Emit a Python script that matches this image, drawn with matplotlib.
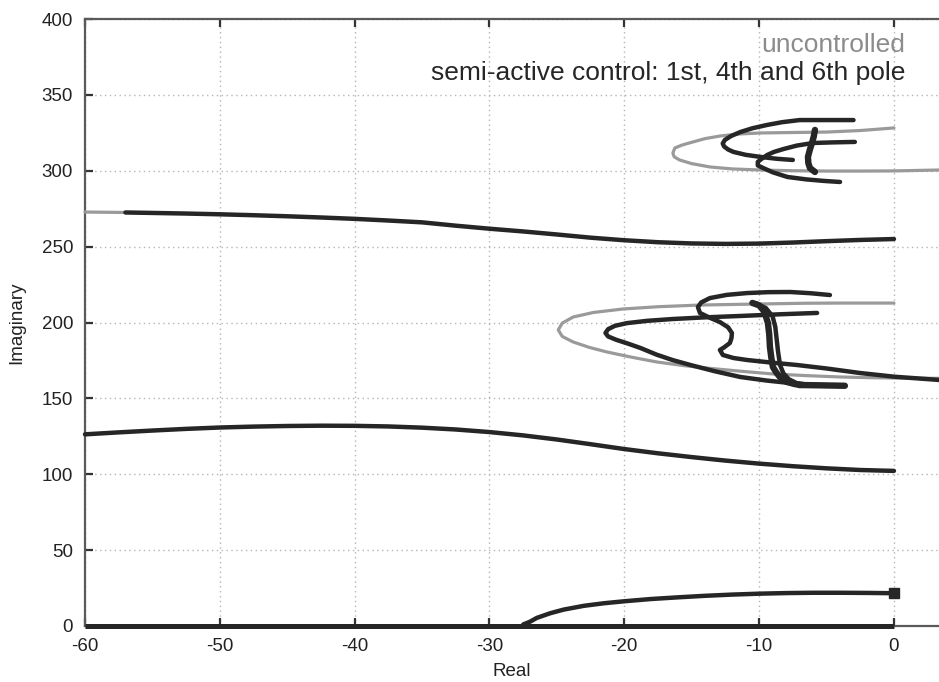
import matplotlib
matplotlib.use("Agg")
import matplotlib.pyplot as plt

plt.rcParams['font.family'] = ['Liberation Sans', 'DejaVu Sans']
plt.rcParams['axes.unicode_minus'] = False

DARK = "#262626"
GRAY = "#9a9a9a"

# ---- root-locus branches (real part, imaginary part) ----
# real-axis branch
axis_re = [-60, 0]
axis_im = [0, 0]

# first pole leaving the real axis
p1_re = [-27.5, -27.0, -26.5, -25.5, -24.5, -23.0, -21.5, -20.0, -18.0, -16.0,
         -14.0, -12.0, -10.0, -8.0, -6.0, -4.0, -2.0, 0.0]
p1_im = [1.0, 2.8, 5.3, 8.4, 10.8, 13.3, 15.0, 16.3, 17.8, 18.9,
         19.9, 20.7, 21.3, 21.7, 21.9, 21.9, 21.8, 21.6]

# second pole
p2_re = [-60, -57.5, -55, -52.5, -50, -47.5, -45, -42.5, -40, -37.5, -35, -32.5,
         -30, -27.5, -25, -22.5, -20, -17.5, -15, -12.5, -10, -7.5, -5, -2.5, 0]
p2_im = [126.3, 127.6, 128.8, 129.9, 130.8, 131.4, 131.8, 132.0, 131.9, 131.5,
         130.7, 129.5, 127.8, 125.6, 122.9, 119.8, 116.6, 113.8, 111.3, 109.0,
         107.0, 105.3, 103.9, 102.8, 102.2]

# third pole
p3u_re = [-60, -57]
p3u_im = [272.8, 272.5]
p3_re = [-57, -55, -52.5, -50, -47.5, -45, -42.5, -40, -37.5, -35, -32.5, -30,
         -27.5, -25, -22.5, -20, -17.5, -15, -12.5, -10, -7.5, -5, -2.5, 0]
p3_im = [272.5, 272.2, 271.8, 271.3, 270.7, 270.0, 269.2, 268.3, 267.2, 266.0,
         263.8, 261.8, 260.0, 258.0, 255.9, 254.2, 252.9, 252.1, 251.8, 252.0,
         252.7, 253.6, 254.4, 255.0]

# fourth pole: uncontrolled
p4u_re = [0.0, -4.0, -6.5, -10.0, -14.4, -17.5, -20.1, -22.3, -23.8, -24.6, -24.9,
          -24.6, -23.8, -22.6, -21.3, -19.5, -17.6, -15.6, -13.9, -11.5, -9.0,
          -6.5, -4.0, -1.5, 0.0, 3.4]
p4u_im = [212.8, 212.8, 212.7, 212.2, 211.5, 210.4, 208.9, 206.6, 203.6, 199.6, 195.1,
          190.8, 187.2, 183.6, 180.6, 177.2, 174.0, 171.6, 170.0, 168.0, 166.1,
          165.0, 164.1, 163.6, 163.4, 163.2]

# fourth pole: semi-active (outer loop)
p4a_re = [-5.7, -8.5, -11.4, -14.0, -16.4, -18.3, -19.8, -20.7, -21.2, -21.4,
          -21.2, -20.6, -19.7, -18.8, -17.6, -16.4, -15.1, -13.3, -11.4, -9.5,
          -7.7, -6.0, -4.0]
p4a_im = [206.3, 205.4, 204.3, 203.4, 202.3, 201.1, 199.6, 197.8, 195.6, 193.1,
          190.8, 188.6, 186.0, 183.2, 178.8, 175.2, 172.0, 167.9, 164.1, 161.8,
          160.1, 158.9, 158.2]

# fourth pole: semi-active (S-shaped loop)
p4b_re = [-4.75, -6.2, -7.7, -9.3, -10.9, -12.4, -13.65, -14.3, -14.54, -14.39,
          -13.7, -12.91, -12.3, -12.02, -12.05, -12.17, -12.6, -12.91, -12.69,
          -11.9, -10.9, -9.0, -7.2, -5.0, -2.5, 0.0, 3.4]
p4b_im = [218.1, 219.3, 220.1, 220.0, 219.4, 218.2, 216.1, 213.2, 210.2, 206.3,
          203.3, 200.3, 196.8, 193.1, 189.8, 186.5, 183.6, 181.9, 178.6,
          176.6, 175.3, 173.5, 172.0, 169.7, 166.7, 164.3, 162.1]

# fourth pole: semi-active (steep strokes)
p4c_re = [-10.5, -10.0, -9.7, -9.5, -9.35, -9.25, -9.2, -9.1, -8.98, -8.75, -8.46,
          -7.94, -7.4, -6.97]
p4c_im = [212.9, 211.3, 208.2, 204.0, 199.7, 192.0, 183.9, 177.0, 170.7, 167.3,
          164.1, 160.8, 159.5, 158.8]
p4d_re = [-10.2, -9.5, -9.0, -8.8, -8.7, -8.6, -8.45, -8.2, -7.8, -7.2, -6.4]
p4d_im = [212.6, 209.5, 204.0, 197.0, 189.0, 181.0, 172.0, 166.5, 162.6, 160.0, 158.9]
p4e_re = [-7.0, -5.5, -3.64]
p4e_im = [158.8, 158.6, 158.3]

# sixth pole: uncontrolled
p6u_re = [0.0, -2.5, -5.0, -7.5, -9.9, -11.5, -12.9, -14.0, -14.9, -15.7, -16.25,
          -16.4, -16.3, -15.9, -15.0, -13.65, -12.0, -9.9, -7.5, -5.0, -2.5, 0.0, 3.4]
p6u_im = [328.2, 326.5, 325.5, 325.2, 324.9, 324.2, 322.9, 321.2, 319.0, 317.0, 315.0,
          311.7, 309.2, 307.1, 304.7, 302.5, 301.2, 300.5, 300.0, 299.8, 299.8, 299.9, 300.5]

# sixth pole: semi-active
p6a_re = [-3.0, -5.0, -7.0, -8.3, -9.4, -10.5, -11.4, -12.1, -12.54, -12.7, -12.6,
          -12.3, -11.9, -11.0, -9.9, -8.7, -7.5]
p6a_im = [333.4, 333.4, 333.4, 332.0, 330.2, 328.0, 325.5, 322.8, 320.3, 318.0, 316.0,
          314.0, 312.4, 310.5, 309.1, 307.9, 307.1]
p6b_re = [-2.9, -4.5, -6.0, -7.2, -8.2, -8.9, -9.4, -9.8, -10.1, -10.1, -9.7,
          -9.0, -7.9, -6.5, -5.2, -4.0]
p6b_im = [319.0, 318.7, 318.3, 316.6, 314.3, 312.4, 310.4, 308.0, 305.8, 303.5, 301.8,
          299.0, 295.9, 294.3, 293.3, 292.6]
p6c_re = [-5.86, -5.95, -6.08, -6.25, -6.38, -6.35, -6.23, -5.86]
p6c_im = [326.9, 322.5, 318.3, 313.5, 309.1, 305.0, 301.8, 299.2]

legend_labels = ["uncontrolled", "semi-active control: 1st, 4th and 6th pole"]
x_ticks = [-60, -50, -40, -30, -20, -10, 0]
y_ticks = [0, 50, 100, 150, 200, 250, 300, 350, 400]

W, H = 939, 682
fig = plt.figure(figsize=(W / 100, H / 100), dpi=100)
ax = fig.add_axes([85 / W, 56 / H, 1 - 85 / W, (626 - 19) / H])

ax.set_xlim(-60, 3.34)
ax.set_ylim(0, 400)

# grid
ax.set_xticks(x_ticks)
ax.set_yticks(y_ticks)
ax.grid(True, color="#b5b5b5", linestyle=(0, (1, 2.5)), linewidth=1.0)
ax.set_axisbelow(True)

# spines and ticks
for side in ("left", "top", "bottom"):
    ax.spines[side].set_color("#5a5a5a")
    ax.spines[side].set_linewidth(1.6)
ax.spines["right"].set_visible(False)
ax.tick_params(axis="both", direction="in", length=6, width=1.6, color="#333333",
               labelsize=13.5, labelcolor="#222222", pad=8.5)
ax.tick_params(axis="x", top=True, bottom=True)
ax.tick_params(axis="y", left=True, right=False)

ax.set_xlabel("Real", fontsize=13.5, color="#222222", labelpad=6)
ax.set_ylabel("Imaginary", fontsize=13.5, color="#222222", labelpad=12)

lw_d, lw_g, lw_t = 3.2, 2.3, 4.6
common = dict(solid_capstyle="round", solid_joinstyle="round", clip_on=False, zorder=3)
kw_d = dict(color=DARK, lw=lw_d, **common)
kw_g = dict(color=GRAY, lw=lw_g, **common)
kw_t = dict(color=DARK, lw=lw_t, **common)

# uncontrolled branches
ax.plot(p3u_re, p3u_im, **kw_g)
ax.plot(p4u_re, p4u_im, **kw_g)
ax.plot(p6u_re, p6u_im, **kw_g)

# semi-active branches
ax.plot(axis_re, axis_im, color=DARK, lw=3.6, solid_capstyle="butt", clip_on=False, zorder=3)
ax.plot(p1_re, p1_im, **kw_d)
ax.plot([p1_re[-1]], [p1_im[-1]], marker="s", ms=7, color=DARK, clip_on=False, zorder=4)
ax.plot(p2_re, p2_im, **kw_d)
ax.plot(p3_re, p3_im, **kw_d)
ax.plot(p4a_re, p4a_im, **kw_d)
ax.plot(p4b_re, p4b_im, **kw_d)
ax.plot(p4c_re, p4c_im, **kw_t)
ax.plot(p4d_re, p4d_im, **kw_d)
ax.plot(p4e_re, p4e_im, **kw_t)
ax.plot(p6a_re, p6a_im, **kw_d)
ax.plot(p6b_re, p6b_im, **kw_d)
ax.plot(p6c_re, p6c_im, **kw_t)

# key text
fig.text(905 / W, 1 - 52 / H, legend_labels[0], ha="right", va="baseline",
         fontsize=19, color="#8c8c8c")
fig.text(905 / W, 1 - 80 / H, legend_labels[1], ha="right", va="baseline",
         fontsize=19, color="#262626")

fig.savefig("out.png", dpi=100)
